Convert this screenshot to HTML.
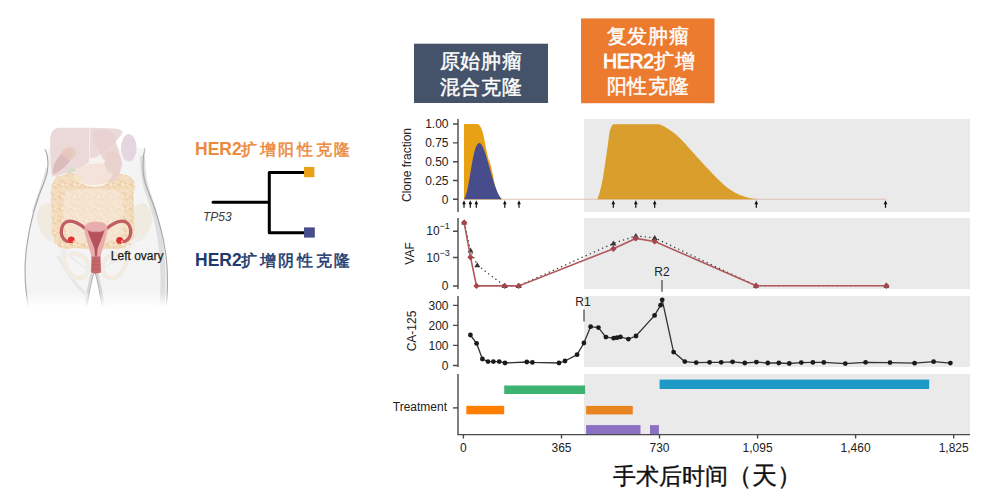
<!DOCTYPE html>
<html><head><meta charset="utf-8">
<style>
html,body{margin:0;padding:0;background:#fff;width:1000px;height:502px;overflow:hidden}
svg{display:block}
text{font-family:"Liberation Sans",sans-serif}
</style></head>
<body>
<svg width="1000" height="502" viewBox="0 0 1000 502">
<!-- ANATOMY -->
<g id="anat">
  <defs>
    <linearGradient id="bfade" x1="0" y1="0" x2="0" y2="1">
      <stop offset="0" stop-color="#fff" stop-opacity="0"/>
      <stop offset="1" stop-color="#fff" stop-opacity="1"/>
    </linearGradient>
    <linearGradient id="tfade" x1="0" y1="0" x2="0" y2="1">
      <stop offset="0" stop-color="#fff" stop-opacity="1"/>
      <stop offset="1" stop-color="#fff" stop-opacity="0"/>
    </linearGradient>
    <pattern id="gut" width="12" height="12" patternUnits="userSpaceOnUse"><rect width="12" height="12" fill="#F3DEC2"/><circle cx="5.4" cy="6.7" r="1.1" fill="#F1D6B2"/><circle cx="5.4" cy="-1.7" r="0.6" fill="#F9ECDC"/><circle cx="5.4" cy="10.3" r="0.6" fill="#F9ECDC"/><circle cx="5.7" cy="7.4" r="0.6" fill="#F1D6B2"/><circle cx="3.6" cy="1.1" r="1.1" fill="#EECFA5"/><circle cx="3.6" cy="13.1" r="1.1" fill="#EECFA5"/><circle cx="7.1" cy="4.8" r="0.8" fill="#F9ECDC"/><circle cx="7.8" cy="7.5" r="1.1" fill="#EECFA5"/><circle cx="0.7" cy="2.3" r="0.7" fill="#EECFA5"/><circle cx="12.7" cy="2.3" r="0.7" fill="#EECFA5"/><circle cx="9.3" cy="3.9" r="0.9" fill="#ECCB9E"/><circle cx="6.2" cy="7.7" r="0.8" fill="#EECFA5"/><circle cx="5.5" cy="3.3" r="1.2" fill="#EECFA5"/><circle cx="8.5" cy="3.8" r="0.7" fill="#F6E4CC"/><circle cx="0.4" cy="6.8" r="0.6" fill="#EECFA5"/><circle cx="12.4" cy="6.8" r="0.6" fill="#EECFA5"/><circle cx="-1.8" cy="4.6" r="1.2" fill="#EECFA5"/><circle cx="10.2" cy="4.6" r="1.2" fill="#EECFA5"/><circle cx="2.6" cy="-0.9" r="0.5" fill="#F1D6B2"/><circle cx="2.6" cy="11.1" r="0.5" fill="#F1D6B2"/><circle cx="-0.2" cy="4.8" r="0.6" fill="#ECCB9E"/><circle cx="11.8" cy="4.8" r="0.6" fill="#ECCB9E"/><circle cx="9.3" cy="3.2" r="0.6" fill="#F6E4CC"/><circle cx="0.2" cy="4.9" r="1.1" fill="#ECCB9E"/><circle cx="12.2" cy="4.9" r="1.1" fill="#ECCB9E"/><circle cx="3.0" cy="1.2" r="0.5" fill="#F1D6B2"/><circle cx="3.0" cy="13.2" r="0.5" fill="#F1D6B2"/><circle cx="2.1" cy="6.7" r="0.8" fill="#ECCB9E"/><circle cx="-0.2" cy="9.2" r="0.8" fill="#F1D6B2"/><circle cx="11.8" cy="9.2" r="0.8" fill="#F1D6B2"/><circle cx="1.4" cy="5.0" r="0.6" fill="#F6E4CC"/><circle cx="13.4" cy="5.0" r="0.6" fill="#F6E4CC"/><circle cx="-1.6" cy="-0.3" r="0.9" fill="#EECFA5"/><circle cx="-1.6" cy="11.7" r="0.9" fill="#EECFA5"/><circle cx="10.4" cy="-0.3" r="0.9" fill="#EECFA5"/><circle cx="10.4" cy="11.7" r="0.9" fill="#EECFA5"/><circle cx="2.5" cy="4.7" r="1.1" fill="#F9ECDC"/><circle cx="1.2" cy="-0.1" r="0.6" fill="#F6E4CC"/><circle cx="1.2" cy="11.9" r="0.6" fill="#F6E4CC"/><circle cx="13.2" cy="-0.1" r="0.6" fill="#F6E4CC"/><circle cx="13.2" cy="11.9" r="0.6" fill="#F6E4CC"/><circle cx="0.1" cy="7.3" r="1.1" fill="#F1D6B2"/><circle cx="12.1" cy="7.3" r="1.1" fill="#F1D6B2"/><circle cx="0.9" cy="1.1" r="0.9" fill="#ECCB9E"/><circle cx="0.9" cy="13.1" r="0.9" fill="#ECCB9E"/><circle cx="12.9" cy="1.1" r="0.9" fill="#ECCB9E"/><circle cx="12.9" cy="13.1" r="0.9" fill="#ECCB9E"/></pattern>
    <filter id="soft" x="-20%" y="-20%" width="140%" height="140%"><feGaussianBlur stdDeviation="0.6"/></filter><filter id="soft2" x="-10%" y="-10%" width="120%" height="120%"><feGaussianBlur stdDeviation="0.3"/></filter>
  </defs>
  <!-- body -->
  <path d="M45 149 C49 158 49 170 45 180 C38 196 30 220 26.5 248 C24 268 25 290 29 310 L86 310 C88 295 91 282 94.5 270 C98 282 101 295 103 310 L166 310 C168 290 168 272 166 255 C163 232 154 205 147 188 C142 176 142 160 145 148 Z" fill="#F4F4F4"/>
  <g fill="none">
    <path d="M142.5 156 C142.5 173 144 184 149 196 C157 216 161 240 162.5 262 C163.5 280 163 295 162 310" stroke="#DEDEDE" stroke-width="5" filter="url(#soft)"/>
    <path d="M92.3 274 C89.5 286 87.3 298 85.8 310 M96.7 274 C99.5 286 101.7 298 103.2 310" stroke="#D8D8D8" stroke-width="4" filter="url(#soft)"/>
    <path d="M47 168 C44 182 38 196 33 212" stroke="#E4E4E4" stroke-width="2.5" filter="url(#soft)"/>
    <path d="M58 256 C68 276 78 288 88 296" stroke="#E8E8E8" stroke-width="3" filter="url(#soft)"/>
  </g>
  <path d="M45 149 C49 158 49 170 45 180 C38 196 30 220 26.5 248 C24 268 25 290 29 310 M166 310 C168 290 168 272 166 255 C163 232 154 205 147 188 C142 176 142 160 145 148" fill="none" stroke="#A5A5A5" stroke-width="1.1"/>
  <path d="M86 310 C88 295 91 282 94.5 270 C98 282 101 295 103 310 Z" fill="#fff"/>
  <path d="M86.5 310 C88.3 295 91.3 282 94.5 270 C97.7 282 100.7 295 102.5 310" stroke="#A0A0A0" stroke-width="0.8" fill="none"/>
  <rect x="20" y="138" width="150" height="16" fill="url(#tfade)"/>
  <!-- pelvic bones -->
  <g fill="#F1E9DE" filter="url(#soft)" opacity="0.85">
    <path d="M37 214 C40 202 50 200 55 208 C60 220 58 236 52 242 C44 240 36 228 37 214 Z"/>
    <path d="M152 214 C149 202 139 200 134 208 C129 220 131 236 137 242 C145 240 153 228 152 214 Z"/>
  </g>
  <g fill="none" stroke="#F2EBE1" stroke-width="4.5" filter="url(#soft)">
    <path d="M64 250 C62 262 68 276 78 278 C86 279 90 272 88 264 C86 256 76 252 70 254"/>
    <path d="M127 250 C129 262 123 276 113 278 C105 279 101 272 103 264 C105 256 115 252 121 254"/>
  </g>
  <g fill="none" stroke="#EDEDED" stroke-width="2.5" filter="url(#soft)">
    <path d="M50 235 C60 248 75 262 90 270"/>
    <path d="M140 235 C130 248 115 262 100 270"/>
  </g>
  <!-- intestines -->
  <path d="M133.9,211.0 134.7,228.7 134.0,233.4 134.2,236.9 133.6,239.5 131.2,240.8 130.1,242.3 130.7,245.4 127.9,245.3 126.1,246.2 124.8,249.0 121.3,248.2 118.0,249.6 112.5,248.8 93.2,249.4 74.0,247.9 68.6,249.1 64.7,249.3 62.2,247.7 59.5,247.5 57.7,246.3 57.4,243.7 54.5,243.7 53.8,241.6 53.7,239.1 53.9,236.3 51.0,233.7 51.9,228.6 51.0,211.0 50.7,193.2 51.4,188.4 51.3,184.8 53.5,182.8 53.3,180.1 55.3,178.9 55.5,176.4 57.3,175.2 60.6,176.2 62.7,175.3 65.3,174.6 68.4,172.0 73.9,173.3 93.2,172.6 112.4,173.7 117.7,173.3 121.2,174.1 124.0,174.8 126.6,174.9 128.5,175.9 130.8,176.5 131.7,178.5 133.4,179.8 134.2,182.2 135.3,184.7 134.8,188.4 133.6,193.5Z" fill="url(#gut)"/>
  <path d="M65 192 C80 188 108 188 121 192 C124 207 124 226 121 240 C100 244 82 244 68 240 C63 226 62 207 65 192 Z" fill="#F7E9DC" opacity="0.6"/>
  <!-- organs -->
  <path d="M50.2 140 C50.2 132 54 127.8 60 127.8 C80 127.5 100 127.5 114 128.5 C121 129 124 131 121.5 134.5 C117 140 112 147 104 152 C98 156 92 160 86 164 C76 170 64 175 52 176.5 C50.5 165 50 150 50.2 140 Z" fill="#EBD9DA"/>
  <path d="M89.7 128.5 C89.5 140 89.5 150 89.8 161" stroke="#F5EEEE" stroke-width="1" fill="none"/>
  <path d="M95 131 C103 128 112 130 114 136 C116 142 118 148 120 156 C122 165 121 175 116 180 C110 183 104 178 104 170 C104 160 100 150 96 145 C92 140 91 134 95 131 Z" fill="#E9D0CF" opacity="0.85"/>
  <ellipse cx="128.8" cy="147.8" rx="7.8" ry="13.6" fill="#E4D6DE"/>
  <path d="M74 173 C78 163 104 160 112 168 C116 176 108 184 94 185 C82 185 72 180 74 173 Z" fill="#F4E3DA"/>
  <path d="M76 180 C84 186 100 187 110 181 C104 188 86 189 76 180 Z" fill="#FBF6F1"/>
  <path d="M88 160 C94 156 104 157 106 162 C100 164 92 164 88 160 Z" fill="#F8F1EE"/>
  <path d="M52.8 174.4 C52 165 58 155 66 150 C70 148 73 149 72 154 C71 162 64 170 52.8 174.4 Z" fill="#DCBCBB"/>
  <path d="M62 151 C66 146 74 146 76 150 C77 156 73 160 68 160 C64 158 61 155 62 151 Z" fill="#E7C9BF" opacity="0.8"/>
  <path d="M108 152 C116 149 123 156 122 166 C120 174 112 176 107 171 C104 165 104 157 108 152 Z" fill="#E9CFCC" opacity="0.8"/>
  <path d="M66 170 L74 167.5 L76 171 L68 173.5 Z" fill="#D6DDC8"/>
  <path d="M74 176 C78 174 82 176 82 180 C80 183 75 183 73 180 Z" fill="#F3E8BE" opacity="0.8"/>
  <!-- uterus -->
  <g filter="url(#soft2)">
  <path d="M86 229 C80 224 72 219 66 222 C61 225 60 233 63 238 C65 241 68 242 70 241" stroke="#C25C63" stroke-width="3.2" fill="none" stroke-linecap="round"/>
  <path d="M106 229 C112 224 120 219 126 222 C131 225 132 233 129 238 C127 241 124 242 122 241" stroke="#C25C63" stroke-width="3.2" fill="none" stroke-linecap="round"/>
  <path d="M84.5 228.5 C85 223 90 221.8 96 221.8 C102 221.8 107 223 107.5 228.5 C106.5 240 102 249 100.5 257 L91.5 257 C90 249 85.5 240 84.5 228.5 Z" fill="#E8AEAE"/>
  <path d="M87.5 230.5 C93 232.5 99 232.5 104.5 230.5 C102.5 237 99.5 243 97.5 249 L97 256.5 L95 256.5 L94.5 249 C92.5 243 89.5 237 87.5 230.5 Z" fill="#B6535A"/>
  <path d="M86 229.5 C92 232.5 100 232.5 106 229.5" stroke="#D68C8E" stroke-width="0.9" fill="none"/>
  <path d="M91.5 256.5 H100.5 L101 272.5 C97 274 94 274 91 272.5 Z" fill="#C4676C"/>
  <path d="M92 261 H100 M92 265 H100 M92 269 H100" stroke="#B85E63" stroke-width="0.6"/>
  <circle cx="71.3" cy="239.8" r="3.4" fill="#E0312F"/>
  <circle cx="119.6" cy="240.4" r="3.4" fill="#E0312F"/>
  <circle cx="73.6" cy="241.5" r="1" fill="#F5C8C0"/>
  <circle cx="122" cy="241.5" r="1" fill="#F5C8C0"/>
  </g>
  <rect x="0" y="292" width="190" height="15" fill="url(#bfade)"/><rect x="0" y="307" width="190" height="12" fill="#fff"/>
  <text x="110.8" y="259.8" font-size="12" fill="#1E1E1E" stroke="#1E1E1E" stroke-width="0.25">Left ovary</text>
</g>

<!-- TREE -->
<g id="tree">
  <text x="195" y="154.5" font-size="17.5" fill="#EC8A3E"><tspan font-weight="bold">HER2</tspan><tspan font-weight="500" font-size="16.3" stroke="#EC8A3E" stroke-width="0.5" letter-spacing="2.7" dx="-0.8">扩增阳性克隆</tspan></text>
  <path d="M213 202.2 H269.3 M305 172.6 H269.3 V232.8 H305" stroke="#000" stroke-width="3" fill="none" stroke-linecap="round" stroke-linejoin="round"/>
  <rect x="304" y="167" width="10.4" height="10.2" fill="#E8A118"/>
  <rect x="304" y="227.4" width="10.8" height="10.2" fill="#474D8C"/>
  <text x="203" y="221" font-size="12" font-style="italic" fill="#3a3a3a">TP53</text>
  <text x="195" y="266" font-size="17.5" fill="#1F3A6E"><tspan font-weight="bold">HER2</tspan><tspan font-weight="500" font-size="16.3" stroke="#1F3A6E" stroke-width="0.5" letter-spacing="2.7" dx="-0.8">扩增阴性克隆</tspan></text>
</g>

<!-- BOXES -->
<rect x="414" y="43.7" width="134" height="59.3" fill="#44536A"/>
<text x="481" y="68" font-size="20" fill="#fff" text-anchor="middle" font-weight="500" stroke="#fff" stroke-width="0.45" letter-spacing="0.7">原始肿瘤</text>
<text x="481" y="94" font-size="20" fill="#fff" text-anchor="middle" font-weight="500" stroke="#fff" stroke-width="0.45" letter-spacing="0.7">混合克隆</text>
<rect x="581" y="18.4" width="133.5" height="84.8" fill="#EC7B30"/>
<text x="648" y="43" font-size="20" fill="#fff" text-anchor="middle" font-weight="500" stroke="#fff" stroke-width="0.45" letter-spacing="0.7">复发肿瘤</text>
<text x="603" y="67.8" font-size="20" fill="#fff" font-weight="500" stroke="#fff" stroke-width="0.45"><tspan stroke-width="0.8" font-size="19.5" letter-spacing="-0.3">HER2</tspan><tspan letter-spacing="0.7">扩增</tspan></text>
<text x="648" y="93" font-size="20" fill="#fff" text-anchor="middle" font-weight="500" stroke="#fff" stroke-width="0.45" letter-spacing="0.7">阳性克隆</text>

<!-- PANELS -->
<g fill="#EAEAEA">
  <rect x="584" y="119" width="386" height="93"/>
  <rect x="584" y="218" width="386" height="71"/>
  <rect x="584" y="296" width="386" height="71"/>
  <rect x="584" y="374" width="386" height="60"/>
</g>

<!-- axes -->
<g stroke="#4a4a4a" stroke-width="1.4" fill="none">
  <path d="M458 119 V212 M458 218 V289 M458 296 V367 M458 374 V434.6 H970"/>
  <path d="M453 124 H458 M453 142.9 H458 M453 161.8 H458 M453 180.5 H458 M453 199.2 H458"/>
  <path d="M453 231.2 H458 M453 257.5 H458 M453 286 H458"/>
  <path d="M453 305.4 H458 M453 325.4 H458 M453 345.4 H458 M453 365.5 H458"/>
  <path d="M453 407.9 H458"/>
  <path d="M463.4 434 V438.6 M561.5 434 V438.6 M659.5 434 V438.6 M757.6 434 V438.6 M855.6 434 V438.6 M953.7 434 V438.6"/>
</g>
<g font-size="12" fill="#222" text-anchor="end">
  <text x="448.5" y="128.3">1.00</text>
  <text x="448.5" y="147.2">0.75</text>
  <text x="448.5" y="166.1">0.50</text>
  <text x="448.5" y="184.8">0.25</text>
  <text x="448.5" y="203.5">0</text>
  <text x="448.5" y="290.3">0</text>
  <text x="448.5" y="309.7">300</text>
  <text x="448.5" y="329.7">200</text>
  <text x="448.5" y="349.7">100</text>
  <text x="448.5" y="369.8">0</text>
  <text x="447" y="411.4">Treatment</text>
</g>
<g font-size="12" fill="#222">
  <text x="426.3" y="235">10</text><text x="439.5" y="229" font-size="9">−1</text>
  <text x="426.3" y="261.5">10</text><text x="439.5" y="255.5" font-size="9">−3</text>
</g>
<g font-size="12" fill="#222" text-anchor="middle">
  <text x="463.4" y="452">0</text>
  <text x="561.5" y="452">365</text>
  <text x="659.5" y="452">730</text>
  <text x="757.6" y="452">1,095</text>
  <text x="855.6" y="452">1,460</text>
  <text x="953.7" y="452">1,825</text>
</g>
<g font-size="12" fill="#222" text-anchor="middle">
  <text transform="translate(411,165) rotate(-90)">Clone fraction</text>
  <text transform="translate(414,253.5) rotate(-90)">VAF</text>
  <text transform="translate(416,331) rotate(-90)">CA-125</text>
</g>

<!-- clone fraction -->
<line x1="464" y1="199.3" x2="886" y2="199.3" stroke="#DDB9A5" stroke-width="0.8"/>
<path d="M464 199.2 V124 H477 C484 124 485 150 489.5 161.6 C494 173 495 199.2 502 199.2 Z" fill="#E8A112"/>
<path d="M464 199.2 C470 192 472 143 479.3 142.9 C486 143 492 188 501.8 199.2 Z" fill="#474D8C"/>
<path d="M596.5 199.2 C596.7 199.1 597.1 199.2 597.7 198.7 C598.3 197.2 599.4 193.5 600.3 190.1 C601.2 186.7 602.0 183.0 602.9 178.1 C603.8 173.2 604.6 166.6 605.5 160.9 C606.4 155.2 607.3 148.7 608.0 143.8 C608.7 138.9 609.0 134.8 609.7 131.7 C610.4 128.5 611.5 126.2 612.3 124.9 C613.1 123.7 614.1 124.3 614.5 124.2 L655.0 124.2 C655.8 124.3 658.0 123.9 660.0 124.6 C662.0 125.3 664.5 126.7 667.1 128.3 C669.7 129.9 672.8 131.9 675.7 134.3 C678.6 136.7 681.4 139.8 684.3 142.8 C687.1 145.8 689.9 149.2 692.8 152.3 C695.6 155.5 698.5 158.6 701.4 161.7 C704.3 164.8 707.1 168.1 710.0 171.1 C712.9 174.1 715.6 177.0 718.5 179.7 C721.4 182.4 724.2 185.2 727.1 187.4 C730.0 189.6 732.9 191.6 735.7 193.1 C738.6 194.6 741.4 195.6 744.2 196.5 C747.1 197.4 750.5 198.1 752.8 198.5 C755.1 198.9 757.1 199.1 758.0 199.2 Z" fill="#D99E2B"/>
<g fill="#111"><path d="M462.2 204.3 L464.0 200.3 L465.8 204.3 Z"/><rect x="463.4" y="203" width="1.2" height="4.8"/><path d="M468.5 204.3 L470.3 200.3 L472.1 204.3 Z"/><rect x="469.7" y="203" width="1.2" height="4.8"/><path d="M474.5 204.3 L476.3 200.3 L478.1 204.3 Z"/><rect x="475.7" y="203" width="1.2" height="4.8"/><path d="M503.0 204.3 L504.8 200.3 L506.6 204.3 Z"/><rect x="504.2" y="203" width="1.2" height="4.8"/><path d="M517.2 204.3 L519.0 200.3 L520.8 204.3 Z"/><rect x="518.4" y="203" width="1.2" height="4.8"/><path d="M611.5 204.3 L613.3 200.3 L615.1 204.3 Z"/><rect x="612.7" y="203" width="1.2" height="4.8"/><path d="M634.0 204.3 L635.8 200.3 L637.6 204.3 Z"/><rect x="635.2" y="203" width="1.2" height="4.8"/><path d="M652.9 204.3 L654.7 200.3 L656.5 204.3 Z"/><rect x="654.1" y="203" width="1.2" height="4.8"/><path d="M754.5 204.3 L756.3 200.3 L758.1 204.3 Z"/><rect x="755.7" y="203" width="1.2" height="4.8"/><path d="M883.7 204.3 L885.5 200.3 L887.3 204.3 Z"/><rect x="884.9" y="203" width="1.2" height="4.8"/></g>

<!-- VAF -->
<polyline points="464.2,222.6 470.5,250.4 477.3,265.2 504.7,285.9 518.7,285.9 613.4,243.4 635.8,235.9 654.7,237.9 756,285.7 886.4,285.7" fill="none" stroke="#3a3a3a" stroke-width="1.3" stroke-dasharray="1.3 3.2"/>
<g fill="#333"><path d="M464.2 219.6 L467.2 224.6 L461.2 224.6 Z"/><path d="M470.5 247.4 L473.5 252.4 L467.5 252.4 Z"/><path d="M477.3 262.2 L480.3 267.2 L474.3 267.2 Z"/><path d="M504.7 282.9 L507.7 287.9 L501.7 287.9 Z"/><path d="M518.7 282.9 L521.7 287.9 L515.7 287.9 Z"/><path d="M613.4 240.4 L616.4 245.4 L610.4 245.4 Z"/><path d="M635.8 232.9 L638.8 237.9 L632.8 237.9 Z"/><path d="M654.7 234.9 L657.7 239.9 L651.7 239.9 Z"/><path d="M756.0 282.7 L759.0 287.7 L753.0 287.7 Z"/><path d="M886.4 282.7 L889.4 287.7 L883.4 287.7 Z"/></g>
<polyline points="464.2,222.6 470.5,257.2 476.5,285.9 504.7,285.9 518.7,285.9 613.4,248.7 635.8,238.4 654.7,241.4 756,285.7 886.4,285.7" fill="none" stroke="#B0585D" stroke-width="1.6"/>
<g fill="#A5454B"><path d="M464.2 219.4 L467.4 222.6 L464.2 225.8 L461.0 222.6 Z"/><path d="M470.5 254.0 L473.7 257.2 L470.5 260.4 L467.3 257.2 Z"/><path d="M476.5 282.7 L479.7 285.9 L476.5 289.1 L473.3 285.9 Z"/><path d="M504.7 282.7 L507.9 285.9 L504.7 289.1 L501.5 285.9 Z"/><path d="M518.7 282.7 L521.9 285.9 L518.7 289.1 L515.5 285.9 Z"/><path d="M613.4 245.5 L616.6 248.7 L613.4 251.9 L610.2 248.7 Z"/><path d="M635.8 235.2 L639.0 238.4 L635.8 241.6 L632.6 238.4 Z"/><path d="M654.7 238.2 L657.9 241.4 L654.7 244.6 L651.5 241.4 Z"/><path d="M756.0 282.5 L759.2 285.7 L756.0 288.9 L752.8 285.7 Z"/><path d="M886.4 282.5 L889.6 285.7 L886.4 288.9 L883.2 285.7 Z"/></g>

<!-- CA-125 -->
<polyline fill="none" stroke="#333" stroke-width="1.3" points="470.4,335.0 476.6,343.4 482.4,359.0 488.0,361.6 493.4,361.6 499.2,361.6 505.0,363.0 526.8,362.0 532.4,362.4 559.0,363.0 565.0,361.0 577.1,354.7 583.9,343.0 590.6,326.7 598.4,327.6 605.9,337.1 613.7,338.2 617.0,337.7 620.4,336.9 628.4,339.1 636.0,336.0 654.6,315.4 660.6,305.2 662.2,299.8 673.6,352.1 684.8,361.6 696.2,362.6 709.6,362.3 721.2,362.3 732.6,361.8 744.8,363.0 756.4,362.1 767.8,363.0 778.8,363.0 789.3,363.5 801.3,362.6 812.9,362.4 823.8,362.4 845.3,363.6 865.6,362.3 890.0,362.6 914.6,363.2 933.6,361.7 950.4,363.1"/>
<g fill="#1a1a1a">
<circle cx="470.4" cy="335.0" r="2.4"/><circle cx="476.6" cy="343.4" r="2.4"/><circle cx="482.4" cy="359.0" r="2.4"/><circle cx="488.0" cy="361.6" r="2.4"/><circle cx="493.4" cy="361.6" r="2.4"/><circle cx="499.2" cy="361.6" r="2.4"/><circle cx="505.0" cy="363.0" r="2.4"/><circle cx="526.8" cy="362.0" r="2.4"/><circle cx="532.4" cy="362.4" r="2.4"/><circle cx="559.0" cy="363.0" r="2.4"/><circle cx="565.0" cy="361.0" r="2.4"/><circle cx="577.1" cy="354.7" r="2.4"/><circle cx="583.9" cy="343.0" r="2.4"/><circle cx="590.6" cy="326.7" r="2.4"/><circle cx="598.4" cy="327.6" r="2.4"/><circle cx="605.9" cy="337.1" r="2.4"/><circle cx="613.7" cy="338.2" r="2.4"/><circle cx="617.0" cy="337.7" r="2.4"/><circle cx="620.4" cy="336.9" r="2.4"/><circle cx="628.4" cy="339.1" r="2.4"/><circle cx="636.0" cy="336.0" r="2.4"/><circle cx="654.6" cy="315.4" r="2.4"/><circle cx="660.6" cy="305.2" r="2.4"/><circle cx="662.2" cy="299.8" r="2.4"/><circle cx="673.6" cy="352.1" r="2.4"/><circle cx="684.8" cy="361.6" r="2.4"/><circle cx="696.2" cy="362.6" r="2.4"/><circle cx="709.6" cy="362.3" r="2.4"/><circle cx="721.2" cy="362.3" r="2.4"/><circle cx="732.6" cy="361.8" r="2.4"/><circle cx="744.8" cy="363.0" r="2.4"/><circle cx="756.4" cy="362.1" r="2.4"/><circle cx="767.8" cy="363.0" r="2.4"/><circle cx="778.8" cy="363.0" r="2.4"/><circle cx="789.3" cy="363.5" r="2.4"/><circle cx="801.3" cy="362.6" r="2.4"/><circle cx="812.9" cy="362.4" r="2.4"/><circle cx="823.8" cy="362.4" r="2.4"/><circle cx="845.3" cy="363.6" r="2.4"/><circle cx="865.6" cy="362.3" r="2.4"/><circle cx="890.0" cy="362.6" r="2.4"/><circle cx="914.6" cy="363.2" r="2.4"/><circle cx="933.6" cy="361.7" r="2.4"/><circle cx="950.4" cy="363.1" r="2.4"/>
</g>
<g font-size="12" fill="#222" text-anchor="middle">
  <text x="583" y="306.4">R1</text>
  <text x="662" y="276.3">R2</text>
</g>
<path d="M584 309.5 V321.5 M662 280 V291.8" stroke="#444" stroke-width="1.2"/>

<!-- Treatment -->
<rect x="466.3" y="405.8" width="37.9" height="8.5" fill="#FF8000"/>
<rect x="504.2" y="385.5" width="80.9" height="8.5" fill="#3DB371"/>
<rect x="586.1" y="405.9" width="46.7" height="8.5" fill="#E8841F"/>
<rect x="586.1" y="425.1" width="54.4" height="8.9" fill="#8B70C3"/>
<rect x="650" y="425.1" width="8.9" height="8.9" fill="#8B70C3"/>
<rect x="659.6" y="379.6" width="269.6" height="9.4" fill="#1F9AC6"/>

<text x="613" y="484.2" font-size="23.3" font-weight="500" fill="#111" stroke="#111" stroke-width="0.35">手术后时间<tspan font-size="24.5" dx="-1">（天）</tspan></text>
</svg>
</body></html>
